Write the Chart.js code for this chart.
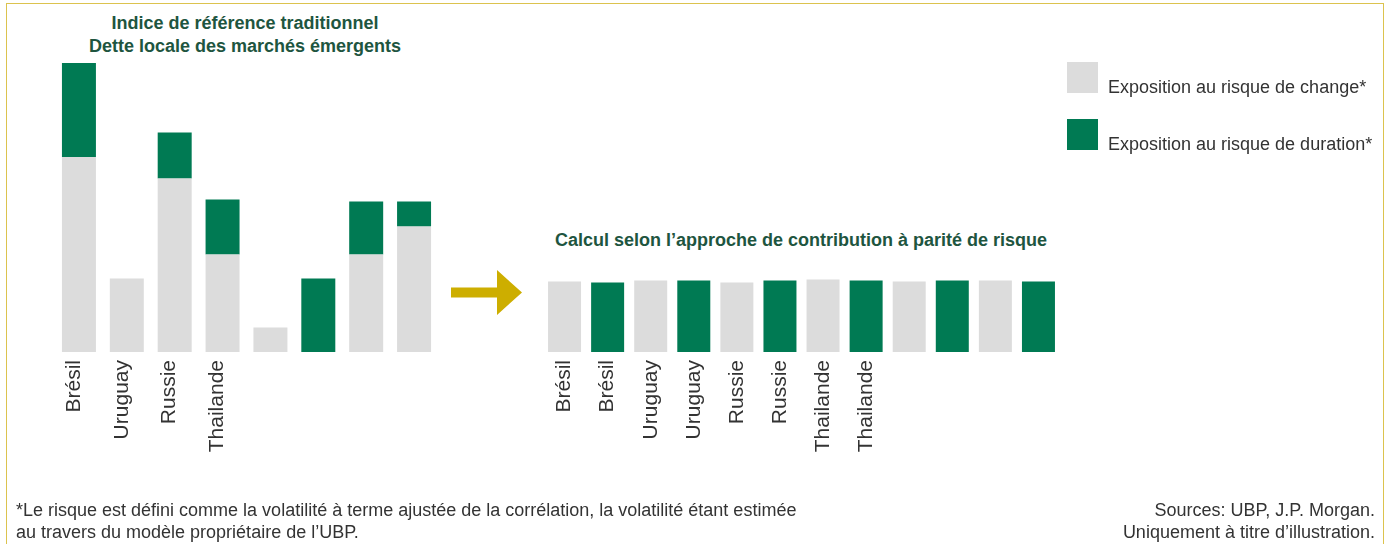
<!DOCTYPE html>
<html>
<head>
<meta charset="utf-8">
<script src="https://cdn.jsdelivr.net/npm/chart.js@4/dist/chart.umd.min.js"></script>
<style>
  body { margin: 0; background: #fff; font-family: "Liberation Sans", Arial, sans-serif; }
  #page { position: relative; width: 1390px; height: 544px; overflow: hidden; }
  #frame { position: absolute; left: 6px; top: 3px; width: 1376px; height: 600px;
           border: 1.5px solid #dcc34e; }
  .title { position: absolute; color: #1e5540; font-weight: bold; font-size: 18px;
           text-align: center; line-height: 23px; white-space: nowrap; }
  .box { position: absolute; }
  .legend-sq { position: absolute; width: 31px; height: 31px; }
  .legend-txt { position: absolute; font-size: 18px; color: #333; white-space: nowrap; }
  .note { position: absolute; font-size: 18px; color: #333; line-height: 22px; white-space: nowrap; }
</style>
</head>
<body>
<div id="page">
  <div id="frame"></div>

  <div class="title" style="left:45px; top:12px; width:400px;">Indice de référence traditionnel<br>Dette locale des marchés émergents</div>
  <div class="title" style="left:551px; top:229px; width:500px;">Calcul selon l’approche de contribution à parité de risque</div>

  <div class="box" style="left:55px; top:42px; width:383px; height:420px;"><canvas id="chartLeft"></canvas></div>
  <div class="box" style="left:543px; top:42px; width:517px; height:420px;"><canvas id="chartRight"></canvas></div>

  <svg style="position:absolute; left:0; top:0;" width="1390" height="544">
    <polygon points="451,287.5 497,287.5 497,270 522,292.5 497,315 497,297.5 451,297.5" fill="#cdae00"></polygon>
  </svg>

  <div class="legend-sq" style="left:1067px; top:62px; background:#dcdcdc;"></div>
  <div class="legend-txt" style="left:1108px; top:77px;">Exposition au risque de change*</div>
  <div class="legend-sq" style="left:1067px; top:119px; background:#007a53;"></div>
  <div class="legend-txt" style="left:1108px; top:134px;">Exposition au risque de duration*</div>

  <div class="note" style="left:16px; top:499px;">*Le risque est défini comme la volatilité à terme ajustée de la corrélation, la volatilité étant estimée<br>au travers du modèle propriétaire de l’UBP.</div>
  <div class="note" style="right:15px; top:499px; text-align:right;">Sources: UBP, J.P. Morgan.<br>Uniquement à titre d’illustration.</div>
</div>

<script>
// left panel: traditional benchmark
var leftLabels = ["Brésil", "Uruguay", "Russie", "Thailande", "", "", "", ""];
var leftChange = [19.5, 7.35, 17.35, 9.75, 2.45, 0, 9.75, 12.55];
var leftDuration = [9.4, 0, 4.6, 5.5, 0, 7.35, 5.3, 2.5];

// right panel: risk parity
var rightLabels = ["Brésil", "Brésil", "Uruguay", "Uruguay", "Russie", "Russie",
                   "Thailande", "Thailande", "", "", "", ""];
var rightChange = [7.05, 0, 7.15, 0, 6.95, 0, 7.25, 0, 7.05, 0, 7.15, 0];
var rightDuration = [0, 6.95, 0, 7.15, 0, 7.15, 0, 7.15, 0, 7.15, 0, 7.05];

var grey = "#dcdcdc";
var green = "#007a53";

function makeOptions(barPct, labelShift) {
	return {
		responsive: true,
		maintainAspectRatio: false,
		animation: false,
		layout: { padding: 0 },
		plugins: {
			legend: { display: false },
			tooltip: { enabled: false },
			title: { display: false }
		},
		datasets: {
			bar: { barPercentage: barPct, categoryPercentage: 1 }
		},
		scales: {
			x: {
				stacked: true,
				grid: { display: false },
				border: { display: false },
				ticks: {
					autoSkip: false,
					maxRotation: 90,
					minRotation: 90,
					padding: 0,
					labelOffset: labelShift,
					color: "#333",
					font: { family: "Liberation Sans", size: 21 }
				},
				afterFit: function (scale) {
					scale.height = 110;
					scale.paddingLeft = 0;
					scale.paddingRight = 0;
				}
			},
			y: {
				stacked: true,
				display: false,
				min: 0,
				max: 31
			}
		}
	};
}

new Chart(document.getElementById("chartLeft"), {
	type: "bar",
	data: {
		labels: leftLabels,
		datasets: [
			{ label: "Exposition au risque de change*", data: leftChange, backgroundColor: grey },
			{ label: "Exposition au risque de duration*", data: leftDuration, backgroundColor: green }
		]
	},
	options: makeOptions(0.71, -5)
});

new Chart(document.getElementById("chartRight"), {
	type: "bar",
	data: {
		labels: rightLabels,
		datasets: [
			{ label: "Exposition au risque de change*", data: rightChange, backgroundColor: grey },
			{ label: "Exposition au risque de duration*", data: rightDuration, backgroundColor: green }
		]
	},
	options: makeOptions(0.766, 0)
});
</script>
</body>
</html>
